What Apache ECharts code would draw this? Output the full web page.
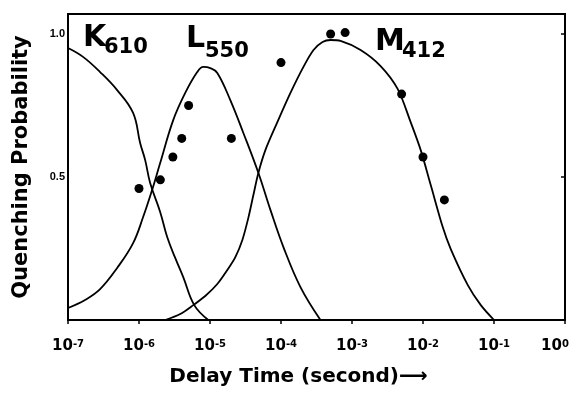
<!DOCTYPE html>
<html><head><meta charset="utf-8">
<script src="https://cdn.jsdelivr.net/npm/echarts@6/dist/echarts.min.js"></script>
<style>html,body{margin:0;padding:0;background:#fff}#c{width:573px;height:401px}</style>
</head><body><div id="c"></div><script>
// x axis: log10 of delay time (seconds)
const xTickExponents = [-7, -6, -5, -4, -3, -2, -1, 0];
const yTickValues = [0.5, 1.0];

// measured points (delay time in seconds, quenching probability)
const dotTimes  = [1e-6, 2e-6, 3e-6, 4e-6, 5e-6, 2e-5, 1e-4, 5e-4, 8e-4, 5e-3, 1e-2, 2e-2];
const dotValues = [0.46, 0.49, 0.57, 0.635, 0.75, 0.635, 0.90, 1.0, 1.005, 0.79, 0.57, 0.42];

// K610 curve (log10 time, probability)
const kExp = [-7.0, -6.788, -6.548, -6.308, -6.083, -5.984, -5.913, -5.843, -5.702, -5.603, -5.49, -5.377, -5.222, -5.024];
const kVal = [0.951, 0.920, 0.867, 0.804, 0.724, 0.619, 0.559, 0.479, 0.378, 0.290, 0.217, 0.150, 0.052, 0.0];

// L550 curve
const lExp = [-7.0, -6.76, -6.548, -6.308, -6.083, -5.942, -5.815, -5.702, -5.518, -5.349, -5.18, -5.095, -4.996, -4.897, -4.714, -4.53, -4.318, -4.149, -3.966, -3.726, -3.444];
const lVal = [0.042, 0.070, 0.108, 0.182, 0.269, 0.360, 0.455, 0.549, 0.699, 0.794, 0.867, 0.885, 0.881, 0.864, 0.769, 0.654, 0.514, 0.385, 0.255, 0.115, 0.0];

// M412 curve
const mExp = [-5.631, -5.419, -5.236, -5.067, -4.897, -4.756, -4.643, -4.544, -4.46, -4.389, -4.319, -4.22, -4.051, -3.867, -3.684, -3.542, -3.415, -3.303, -3.161, -2.879, -2.597, -2.357, -2.174, -2.032, -1.891, -1.722, -1.609, -1.369, -1.186, -1.0];
const mVal = [0.0, 0.021, 0.052, 0.084, 0.126, 0.175, 0.220, 0.280, 0.357, 0.437, 0.514, 0.594, 0.692, 0.794, 0.885, 0.944, 0.972, 0.979, 0.976, 0.944, 0.888, 0.808, 0.692, 0.594, 0.472, 0.325, 0.248, 0.122, 0.052, 0.0];

const speciesMain = ['K', 'L', 'M'];
const speciesSub  = ['610', '550', '412'];

const FONT = 'DejaVu Sans';
const zip = (a, b) => a.map((v, i) => [v, b[i]]);

const chart = echarts.init(document.getElementById('c'), null, {renderer: 'canvas'});

const labelPos = [
  {mx: 83, my: 38, sx: 104, sy: 48},
  {mx: 186, my: 39, sx: 205, sy: 52},
  {mx: 375, my: 42, sx: 402, sy: 52}
];
const graphics = [];
speciesMain.forEach((m, i) => {
  const p = labelPos[i];
  graphics.push({type: 'text', left: p.mx, top: p.my - 15,
    style: {text: m, fontFamily: FONT, fontWeight: 'bold', fontSize: 30, fill: '#000'}});
  graphics.push({type: 'text', left: p.sx, top: p.sy - 10.5,
    style: {text: speciesSub[i], fontFamily: FONT, fontWeight: 'bold', fontSize: 21, fill: '#000'}});
});

const lastExp = xTickExponents[xTickExponents.length - 1];
const lineStyle = {color: '#000', width: 1.8};
chart.setOption({
  animation: false,
  backgroundColor: '#fff',
  grid: {left: 68, right: 8, top: 14, bottom: 81, show: true, borderColor: '#000', borderWidth: 2,
         containLabel: false, outerBoundsMode: 'none'},
  xAxis: {
    type: 'value', min: xTickExponents[0], max: lastExp, interval: 1,
    axisLine: {lineStyle: {color: '#000', width: 2}},
    axisTick: {show: true, inside: false, length: 4, lineStyle: {color: '#000', width: 1.5}},
    splitLine: {show: false},
    axisLabel: {
      margin: 19, hideOverlap: false,
      formatter: v => '{a|10}{s|' + Math.round(v) + '}' + (Math.round(v) === lastExp ? '{sp|}' : ''),
      rich: {
        a: {fontFamily: FONT, fontWeight: 'bold', fontSize: 15, color: '#000'},
        s: {fontFamily: FONT, fontWeight: 'bold', fontSize: 10, color: '#000', verticalAlign: 'top'},
        sp: {width: 20}
      }
    },
    name: 'Delay Time (second)⟶',
    nameLocation: 'middle', nameGap: 47,
    nameTextStyle: {fontFamily: FONT, fontWeight: 'bold', fontSize: 20, color: '#000', padding: [0, 36, 0, 0]}
  },
  yAxis: {
    type: 'value', min: 0, max: 1.07,
    axisLine: {lineStyle: {color: '#000', width: 2}},
    axisTick: {show: true, inside: false, length: 4, customValues: [0].concat(yTickValues), lineStyle: {color: '#000', width: 1.5}},
    splitLine: {show: false},
    axisLabel: {
      margin: 3, customValues: yTickValues,
      formatter: v => v.toFixed(1),
      fontFamily: 'Liberation Sans', fontWeight: 'bold', fontSize: 11, color: '#000'
    },
    name: 'Quenching Probability',
    nameLocation: 'middle', nameGap: 36,
    nameTextStyle: {fontFamily: FONT, fontWeight: 'bold', fontSize: 21, color: '#000'}
  },
  graphic: graphics,
  series: [
    {type: 'line', data: zip(kExp, kVal), smooth: 0.4, showSymbol: false, lineStyle: lineStyle, silent: true},
    {type: 'line', data: zip(lExp, lVal), smooth: 0.4, showSymbol: false, lineStyle: lineStyle, silent: true},
    {type: 'line', data: zip(mExp, mVal), smooth: 0.3, showSymbol: false, lineStyle: lineStyle, silent: true},
    {type: 'scatter', data: dotTimes.map((t, i) => [Math.log10(t), dotValues[i]]), symbolSize: 9,
     itemStyle: {color: '#000', opacity: 1}, silent: true}
  ]
});
</script></body></html>
